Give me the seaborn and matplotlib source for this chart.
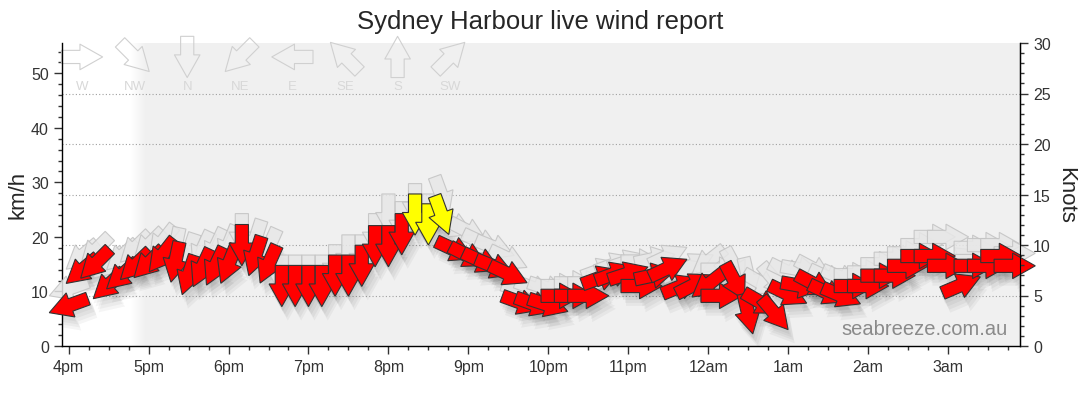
import numpy as np
import pandas as pd
import matplotlib
matplotlib.use("Agg")
import matplotlib.pyplot as plt
import seaborn as sns
from matplotlib.path import Path
from matplotlib.markers import MarkerStyle
from matplotlib.transforms import Affine2D, ScaledTranslation
from matplotlib.ticker import MultipleLocator

# %% data (10 minute samples, km/h, direction wind comes from)
times = [
    "16:00", "16:10", "16:20", "16:30", "16:40", "16:50", "17:00", "17:10", "17:20", "17:30", "17:40", "17:50",
    "18:00", "18:10", "18:20", "18:30", "18:40", "18:50", "19:00", "19:10", "19:20", "19:30", "19:40", "19:50",
    "20:00", "20:10", "20:20", "20:30", "20:40", "20:50", "21:00", "21:10", "21:20", "21:30", "21:40", "21:50",
    "22:00", "22:10", "22:20", "22:30", "22:40", "22:50", "23:00", "23:10", "23:20", "23:30", "23:40", "23:50",
    "00:00", "00:10", "00:20", "00:30", "00:40", "00:50", "01:00", "01:10", "01:20", "01:30", "01:40", "01:50",
    "02:00", "02:10", "02:20", "02:30", "02:40", "02:50", "03:00", "03:10", "03:20", "03:30", "03:40", "03:50",
]
speed_kmh = [
    7.4, 13.9, 15.1, 11.2, 13.0, 14.8, 15.2, 16.6, 15.4, 13.0, 14.3, 14.6,
    15.0, 18.5, 16.5, 15.0, 11.0, 11.0, 11.0, 11.0, 12.9, 12.9, 14.7, 18.3,
    18.3, 20.5, 24.1, 22.3, 24.0, 17.6, 16.5, 15.5, 14.5, 13.2, 7.9, 7.6,
    7.5, 9.2, 9.2, 9.2, 12.6, 13.3, 13.3, 11.0, 13.0, 14.3, 11.0, 11.3,
    11.3, 9.2, 11.8, 5.9, 7.9, 5.9, 9.5, 11.0, 11.3, 9.7, 9.2, 11.0,
    11.0, 12.9, 12.9, 14.7, 16.5, 16.5, 14.7, 11.2, 14.7, 14.7, 16.5, 14.7,
]
gust_kmh = [
    10.5, 16.5, 17.5, 15.0, 16.5, 18.0, 18.5, 19.0, 18.0, 17.0, 17.5, 18.0,
    18.5, 20.5, 19.5, 18.0, 12.9, 12.9, 12.9, 12.9, 14.8, 16.6, 16.6, 20.5,
    24.1, 22.7, 26.0, 24.1, 27.5, 22.0, 21.0, 19.0, 18.0, 16.0, 10.0, 10.5,
    10.5, 11.0, 11.5, 11.5, 14.0, 15.0, 15.5, 15.5, 16.0, 16.5, 14.0, 15.0,
    15.5, 14.0, 14.5, 12.5, 11.5, 12.0, 13.5, 14.0, 14.0, 12.5, 12.5, 13.0,
    13.5, 15.0, 16.0, 17.0, 18.5, 20.0, 20.0, 16.0, 18.0, 18.5, 18.5, 17.0,
]
direction_deg = [
    70, 50, 45, 48, 48, 46, 45, 38, 12, 18, 25, 25,
    22, 0, 18, 24, 0, 0, 0, 0, 0, 0, 0, 0,
    0, 0, 0, 0, 340, 295, 297, 295, 292, 295, 290, 290,
    288, 270, 270, 270, 250, 250, 252, 270, 258, 245, 248, 243,
    52, 270, 332, 347, 300, 320, 296, 280, 298, 295, 293, 270,
    270, 270, 270, 270, 270, 270, 270, 247, 270, 270, 270, 270,
]
compass_labels = ["W", "NW", "N", "NE", "E", "SE", "S", "SW"]
compass_deg = [270, 315, 0, 45, 90, 135, 180, 225]
hour_labels = ["4pm", "5pm", "6pm", "7pm", "8pm", "9pm", "10pm", "11pm", "12am", "1am", "2am", "3am"]
hour_ticks = [16, 17, 18, 19, 20, 21, 22, 23, 24, 25, 26, 27]
knot_ticks = [0, 5, 10, 15, 20, 25, 30]
KMH_PER_KNOT = 1.852


def to_hours(s):
    h, m = map(int, s.split(":"))
    return h + m / 60 + (24 if h < 12 else 0)


df = pd.DataFrame({
    "hours": [to_hours(t) for t in times],
    "speed": speed_kmh,
    "gust": gust_kmh,
    "dir": direction_deg,
})
df["level"] = np.where(df["speed"] >= 22, "strong", "normal")

# %% arrow marker, centred on the point, pointing +x before rotation
ARROW = Path(
    [(-0.5, -0.16), (-0.05, -0.16), (-0.05, -0.31), (0.5, 0.0),
     (-0.05, 0.31), (-0.05, 0.16), (-0.5, 0.16), (-0.5, -0.16)],
    [Path.MOVETO] + [Path.LINETO] * 6 + [Path.CLOSEPOLY],
)


def arrow_marker(deg):
    # wind "from" deg -> arrow points downwind
    return MarkerStyle(ARROW, transform=Affine2D().rotate_deg(270 - deg))


markers = {d: arrow_marker(d) for d in df["dir"].unique()}
S = 880  # points^2 -> ~41px long arrow at 100 dpi

# %% figure
sns.set_style("white")
plt.rcParams["font.family"] = ["Liberation Sans", "DejaVu Sans"]

fig = plt.figure(figsize=(10.8, 4.14), dpi=100)
ax = fig.add_axes([62 / 1080, 67 / 414, 958 / 1080, 303 / 414])
ax.set_facecolor("white")

# grey plot background that fades in from white on the left
ramp = np.clip((np.arange(958) - 68) / 16, 0, 1)
img = np.ones((1, 958, 4))
img[..., :3] = 0.945
img[0, :, 3] = ramp
ax.imshow(img, extent=(0, 1, 0, 1), transform=ax.transAxes, aspect="auto", zorder=0)

for k in knot_ticks[1:-1]:
    ax.axhline(k * KMH_PER_KNOT, ls=(0, (1, 2)), color="#a0a0a0", lw=0.8, zorder=1)

# soft shadows
for dx, dy in [(1, -4), (3, -7), (5, -10), (6, -13)]:
    off = ax.transData + ScaledTranslation(dx / 100, dy / 100, fig.dpi_scale_trans)
    sns.scatterplot(data=df, x="hours", y="speed", style="dir", markers=markers, s=S * 1.1,
                    color="black", alpha=0.04, linewidth=0, transform=off,
                    legend=False, ax=ax, zorder=2)

# gusts
sns.scatterplot(data=df, x="hours", y="gust", style="dir", markers=markers, s=S,
                color="#e7e7e7", edgecolor="#c2c2c2", linewidth=0.8, alpha=0.85,
                joinstyle="miter", clip_on=False, legend=False, ax=ax, zorder=3)

# mean wind
sns.scatterplot(data=df, x="hours", y="speed", style="dir", markers=markers, s=S,
                hue="level", palette={"normal": "#ff0000", "strong": "#ffff00"},
                edgecolor="#333333", linewidth=0.8, joinstyle="miter", clip_on=False,
                legend=False, ax=ax, zorder=4)

# compass legend along the top
cx = 0.0209 + 0.0549 * np.arange(len(compass_labels))
for x, lab, d in zip(cx, compass_labels, compass_deg):
    ax.scatter([x], [0.954], marker=arrow_marker(d), s=S, transform=ax.transAxes,
               facecolor="none", edgecolor="#d0d0d0", linewidth=0.8, zorder=1.5,
               clip_on=False)
    ax.text(x, 0.858, lab, transform=ax.transAxes, ha="center", va="center",
            fontsize=9.5, color="#d8d8d8", zorder=1.5)

ax.text(0.987, 0.025, "seabreeze.com.au", transform=ax.transAxes, ha="right",
        va="bottom", fontsize=14.5, color="#8a8a8a", zorder=6)

# axes
ax.set_xlim(15.917, 27.9)
ax.set_ylim(0, 30 * KMH_PER_KNOT)
ax.set_xticks(hour_ticks)
ax.set_xticklabels(hour_labels)
ax.xaxis.set_minor_locator(MultipleLocator(0.25))
ax.yaxis.set_major_locator(MultipleLocator(10))
ax.yaxis.set_minor_locator(MultipleLocator(2))
ax.set_xlabel("")
ax.set_ylabel("")
ax.tick_params(which="major", length=6, width=1, color="#333333", labelsize=11.5,
               labelcolor="#333333", direction="out")
ax.tick_params(which="minor", length=3, width=1, color="#333333", direction="out")
ax.tick_params(axis="x", which="both", bottom=True)
ax.tick_params(axis="y", which="both", left=True)
for side in ["left", "bottom", "right"]:
    ax.spines[side].set_visible(True)
    ax.spines[side].set_color("black")
    ax.spines[side].set_linewidth(1)
ax.spines["top"].set_visible(False)

ax2 = ax.twinx()
ax2.set_ylim(0, 30)
ax2.set_yticks(knot_ticks)
ax2.yaxis.set_minor_locator(MultipleLocator(1))
ax2.tick_params(which="major", length=6, width=1, color="#333333", labelsize=11.5,
                labelcolor="#333333", direction="out", right=True)
ax2.tick_params(which="minor", length=3, width=1, color="#333333", direction="out", right=True)
for side in ["left", "bottom", "top"]:
    ax2.spines[side].set_visible(False)
ax2.spines["right"].set_color("black")

fig.text(0.5, 0.948, "Sydney Harbour live wind report", ha="center", va="center", fontsize=18.5)
fig.text(18 / 1080, 1 - 195 / 414, "km/h", rotation=90, ha="center", va="center", fontsize=16)
fig.text(1066 / 1080, 1 - 195 / 414, "Knots", rotation=270, ha="center", va="center", fontsize=16)

fig.savefig("out.png", dpi=100)
